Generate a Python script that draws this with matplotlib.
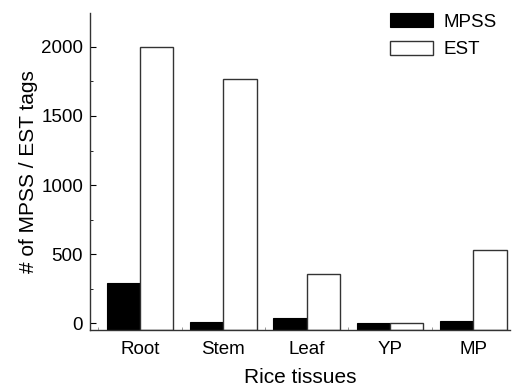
import matplotlib
matplotlib.use('Agg')
from matplotlib import pyplot as plt
from matplotlib.ticker import MultipleLocator, FixedLocator
import numpy as np

plt.rcParams['font.family'] = ['Liberation Sans', 'DejaVu Sans']

tissues = ['Root', 'Stem', 'Leaf', 'YP', 'MP']
mpss = [295, 8, 38, 6, 18]
est = [2000, 1768, 356, 6, 532]

ymin, ymax = -48, 2245
x = np.arange(len(tissues))
w = 0.4

fig = plt.figure(figsize=(5.13, 3.89), dpi=100)
ax = fig.add_axes([0.1754, 0.1517, 0.8186, 0.815])

# bars drawn up from the bottom of the axis, as in the original
ax.bar(x - w / 2, [v - ymin for v in mpss], w, bottom=ymin,
       color='black', edgecolor='black', linewidth=0.8, label='MPSS')
ax.bar(x + w / 2, [v - ymin for v in est], w, bottom=ymin,
       color='white', edgecolor='#333333', linewidth=1.0, label='EST')

ax.set_xlim(-0.6, 4.44)
ax.set_ylim(ymin, ymax)
ax.set_xticks(x)
ax.set_xticklabels(tissues)
ax.xaxis.set_minor_locator(FixedLocator([-0.5, 0.5, 1.5, 2.5, 3.5]))
ax.set_yticks([0, 500, 1000, 1500, 2000])
ax.yaxis.set_minor_locator(MultipleLocator(250))

ax.tick_params(axis='y', which='major', direction='in', length=4, labelsize=13.5, pad=5)
ax.tick_params(axis='y', which='minor', direction='in', length=2)
ax.tick_params(axis='x', which='major', length=0, labelsize=13.5, pad=8)
ax.tick_params(axis='x', which='minor', direction='in', length=2, color='#888888')

for s in ['top', 'right']:
    ax.spines[s].set_visible(False)
for s in ['left', 'bottom']:
    ax.spines[s].set_color('#333333')
    ax.spines[s].set_linewidth(1.0)

ax.set_ylabel('# of MPSS / EST tags', fontsize=15, labelpad=2)
ax.set_xlabel('Rice tissues', fontsize=15, labelpad=7)

ax.legend(loc='upper right', bbox_to_anchor=(1.01, 1.052), frameon=False,
          fontsize=13.5, handlelength=2.3, handleheight=0.75, labelspacing=0.55,
          handletextpad=0.6)

plt.savefig('out.png', dpi=100)
